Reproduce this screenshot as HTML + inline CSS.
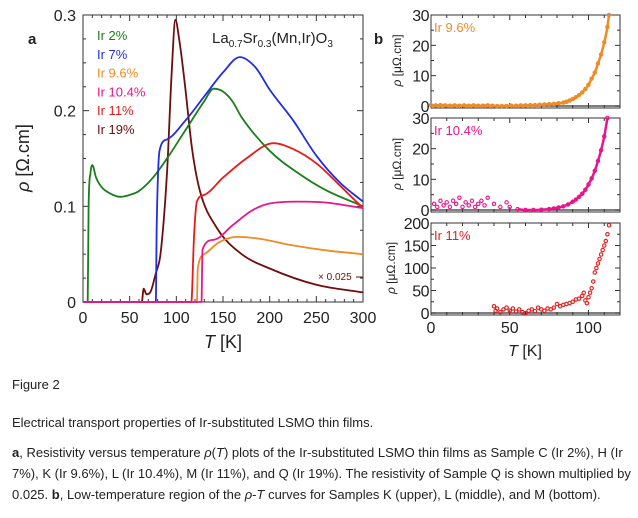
<!DOCTYPE html>
<html><head><meta charset="utf-8"><style>
body{margin:0;background:#fff;width:638px;height:518px;overflow:hidden;font-family:"Liberation Sans",sans-serif}
svg{position:absolute;left:0;top:0}
.cap{position:absolute;left:12px;font-family:"Liberation Sans Narrow","Liberation Sans",sans-serif;font-size:13px;color:#222;line-height:21px;width:620px}
</style></head><body>
<svg id="chart" width="638" height="370" viewBox="0 0 638 370"></svg>
<div class="cap" style="top:374px">Figure 2</div>
<div class="cap" style="top:412px">Electrical transport properties of Ir-substituted LSMO thin films.</div>
<div class="cap" style="top:442px"><b>a</b>, Resistivity versus temperature <i>ρ</i>(<i>T</i>) plots of the Ir-substituted LSMO thin films as Sample C (Ir 2%), H (Ir 7%), K (Ir 9.6%), L (Ir 10.4%), M (Ir 11%), and Q (Ir 19%). The resistivity of Sample Q is shown multiplied by 0.025. <b>b</b>, Low-temperature region of the <i>ρ</i>-<i>T</i> curves for Samples K (upper), L (middle), and M (bottom).</div>
<script>
// Panel a data
const tIr2=[0,5,6,8,10,14,20,30,40,50,60,75,90,110,130,140,150,160,170,200,230,260,300];
const rIr2=[0,0,0.1,0.135,0.143,0.13,0.12,0.113,0.11,0.112,0.116,0.13,0.15,0.18,0.21,0.223,0.22,0.21,0.193,0.158,0.135,0.117,0.1];
const tIr7=[0,78,79,82,90,110,130,150,168,185,200,225,250,275,300];
const rIr7=[0,0,0.08,0.158,0.17,0.19,0.215,0.24,0.256,0.245,0.222,0.19,0.153,0.125,0.105];
const tIr96=[0,122,123,130,145,165,190,220,260,300];
const rIr96=[0,0,0.035,0.05,0.062,0.068,0.066,0.06,0.054,0.05];
const tIr104=[0,127,128,140,160,180,200,230,260,300];
const rIr104=[0,0,0.055,0.065,0.08,0.095,0.103,0.105,0.104,0.098];
const tIr11=[0,116,119,122,130,150,175,204,225,250,275,300];
const rIr11=[0,0,0.07,0.105,0.112,0.13,0.15,0.166,0.16,0.145,0.122,0.098];
const tIr19=[0,63,65,68,72,78,83,90,95,99,103,109,117,125,143,170,200,250,300];
const rIr19=[0,0,0.014,0.008,0.01,0.03,0.05,0.135,0.24,0.295,0.275,0.229,0.159,0.117,0.078,0.05,0.035,0.018,0.01];
const legendLabels=["Ir 2%","Ir 7%","Ir 9.6%","Ir 10.4%","Ir 11%","Ir 19%"];
const xTicksA=[0,50,100,150,200,250,300];
const yTicksA=[0,0.1,0.2,0.3];
// Panel b data
const tK=[0,3,6,9,12,15,18,21,24,27,30,33,36,39,42,45,48,51,54,57,60,63,66,69,72,75,78,81,84,86,88,90,92,94,96,98,100,102,104,106,108,110,112,113];
const rK=[0.3,0.2,0.3,0.2,0.1,0.2,0.1,0.2,0.1,0.2,0.1,0.1,0.2,0.1,0,0,0,0.1,0.1,0.2,0.2,0.3,0.3,0.4,0.5,0.6,0.7,0.9,1.1,1.4,1.8,2.3,2.9,3.6,4.5,5.6,7,9,11,14,17,21,26,30];
const tL=[2,4,6,8,10,12,14,16,18,20,22,24,26,28,30,32,34,36,40,44,48,50,55,60,65,70,75,78,81,84,87,90,92,94,96,98,100,102,104,106,108,110,112];
const rL=[2,1,3,1.5,2.5,1,3,2,4,1,2.5,1.5,3,1,2,3,1.5,4,2,1,2.5,1,0.3,0,0,0.1,0.3,0.5,0.8,1.2,1.8,2.7,3.4,4.3,5.3,6.6,8.3,10.3,12.8,16,19.5,24,30];
const tM=[40,41,42,44,46,48,50,52,54,56,58,60,62,64,66,68,70,72,74,76,78,80,82,84,86,88,90,92,94,96,97,98,99,100,101,102,103,104,105,106,107,108,109,110,111,112,113];
const rM=[15,5,10,2,8,12,5,10,3,8,2,0,5,8,4,12,8,5,10,8,12,20,15,18,20,22,25,30,32,38,45,28,22,35,45,55,70,90,100,110,120,130,140,150,160,175,195];
const xTicksB=[0,50,100];
const yTicksB12=[0,10,20,30];
const yTicksB3=[0,50,100,150,200];

const svg=document.getElementById('chart');
const NS='http://www.w3.org/2000/svg';
function mk(tag,attrs,parent){const e=document.createElementNS(NS,tag);for(const k in attrs)e.setAttribute(k,attrs[k]);(parent||svg).appendChild(e);return e;}
function txt(s,x,y,opts,parent){const e=mk('text',Object.assign({x:x,y:y,'font-family':'Liberation Sans, sans-serif',fill:'#222'},opts),parent);e.textContent=s;return e;}
// monotone cubic path through pixel points
function smooth(P){
  const n=P.length;if(n<3)return P.map((p,i)=>(i?'L':'M')+p[0]+','+p[1]).join('');
  const d=[],m=[];
  for(let i=0;i<n-1;i++){const dx=P[i+1][0]-P[i][0];d.push(dx?(P[i+1][1]-P[i][1])/dx:0);}
  m[0]=d[0];m[n-1]=d[n-2];
  for(let i=1;i<n-1;i++){m[i]=(d[i-1]*d[i]<=0)?0:(d[i-1]+d[i])/2;}
  for(let i=0;i<n-1;i++){if(d[i]===0){m[i]=0;m[i+1]=0;continue;}const a=m[i]/d[i],b=m[i+1]/d[i],s=a*a+b*b;if(s>9){const t=3/Math.sqrt(s);m[i]=t*a*d[i];m[i+1]=t*b*d[i];}}
  let s='M'+P[0][0].toFixed(1)+','+P[0][1].toFixed(1);
  for(let i=0;i<n-1;i++){const h=(P[i+1][0]-P[i][0])/3;
    s+='C'+(P[i][0]+h).toFixed(1)+','+(P[i][1]+m[i]*h).toFixed(1)+' '+(P[i+1][0]-h).toFixed(1)+','+(P[i+1][1]-m[i+1]*h).toFixed(1)+' '+P[i+1][0].toFixed(1)+','+P[i+1][1].toFixed(1);}
  return s;
}

// panel a axes
const ax={l:83,r:363,t:15,b:302,x0:0,x1:300,y0:0,y1:0.3};
const xa=v=>ax.l+(v-ax.x0)/(ax.x1-ax.x0)*(ax.r-ax.l);
const ya=v=>ax.b-(v-ax.y0)/(ax.y1-ax.y0)*(ax.b-ax.t);
const gA=mk('g',{});


const frameA=mk('rect',{x:ax.l,y:ax.t,width:ax.r-ax.l,height:ax.b-ax.t,fill:'none',stroke:'#333','stroke-width':1},gA);


for(let v=0;v<=300;v+=10){const x=xa(v);const L=v%50===0?6:3;mk('line',{x1:x,x2:x,y1:ax.b,y2:ax.b-L,stroke:'#333'},gA);mk('line',{x1:x,x2:x,y1:ax.t,y2:ax.t+L,stroke:'#333'},gA);}
for(let i=0;i<=12;i++){const v=i*0.025;const y=ya(v);const L=i%4===0?6:3;mk('line',{x1:ax.l,x2:ax.l+L,y1:y,y2:y,stroke:'#333'},gA);mk('line',{x1:ax.r,x2:ax.r-L,y1:y,y2:y,stroke:'#333'},gA);}
xTicksA.forEach(v=>{const t=txt(String(v),xa(v),323,{'font-size':16,'text-anchor':'middle'},gA);});
yTicksA.forEach(v=>{const t=txt(String(v),76,ya(v)+6,{'font-size':16,'text-anchor':'end'},gA);});
const xtA=txt('',223,348,{'font-size':18,'text-anchor':'middle'},gA);xtA.innerHTML='<tspan font-style="italic">T</tspan> [K]';

const ytA=txt('',0,0,{'font-size':18,'text-anchor':'middle',transform:'translate(29,158) rotate(-90)'},gA);ytA.innerHTML='<tspan font-style="italic">ρ</tspan> [Ω.cm]';

const colors=['#1a7d1a','#1f2ee0','#f08a24','#e8158c','#e81a1a','#6e0d0d'];
const seriesT=[tIr2,tIr7,tIr96,tIr104,tIr11,tIr19];
const seriesR=[rIr2,rIr7,rIr96,rIr104,rIr11,rIr19];
const names=['line-ir2','line-ir7','line-ir9-6','line-ir10-4','line-ir11','line-ir19'];
[5,0,1,2,4,3].forEach(i=>{
  const pts=seriesT[i].map((t,j)=>[xa(t),ya(seriesR[i][j])]);
  const p=mk('path',{d:smooth(pts),fill:'none',stroke:colors[i],'stroke-width':1.8,'stroke-linejoin':'round'},gA);
  
  
});
legendLabels.forEach((s,i)=>{const t=txt(s,97,40+i*18.8,{'font-size':13,fill:colors[i]},gA);});
const ttl=txt('',212,43,{'font-size':15},gA);ttl.innerHTML='La<tspan font-size="10" dy="4">0.7</tspan><tspan dy="-4">Sr</tspan><tspan font-size="10" dy="4">0.3</tspan><tspan dy="-4">(Mn,Ir)O</tspan><tspan font-size="10" dy="4">3</tspan>';

const la=txt('a',28,44,{'font-size':15,'font-weight':'bold'},gA);
const sc=txt('× 0.025',318,280,{'font-size':10,fill:'#6e0d0d'},gA);
mk('line',{x1:356,x2:363,y1:277,y2:277,stroke:'#6e0d0d'},gA);
const lb=txt('b',374,44,{'font-size':15,'font-weight':'bold'});

// panel b
const bl=431,br=620,bx=v=>bl+v/120*(br-bl);
const panels=[
 {t:15,z:106,b:108,max:30,ticks:yTicksB12,minor:5,T:tK,R:rK,c:'#f08a24',lab:'Ir 9.6%',name:'panel-b-upper'},
 {t:118,z:210,b:212,max:30,ticks:yTicksB12,minor:5,T:tL,R:rL,c:'#e8158c',lab:'Ir 10.4%',name:'panel-b-middle'},
 {t:223,z:313,b:315,max:200,ticks:yTicksB3,minor:25,T:tM,R:rM,c:'#e81a1a',lab:'Ir 11%',name:'panel-b-lower'}];
panels.forEach((P,k)=>{
  const g=mk('g',{});
  
  
  const yb=v=>P.z-v/P.max*(P.z-P.t);
  mk('rect',{x:bl,y:P.t,width:br-bl,height:P.b-P.t,fill:'none',stroke:'#333'},g);
  mk('line',{x1:bl,x2:br,y1:P.z,y2:P.z,stroke:'#555','stroke-width':1.5},g);
  for(let v=0;v<=120;v+=10){const x=bx(v);const L=v%50===0?5:3;mk('line',{x1:x,x2:x,y1:P.b,y2:P.b-L,stroke:'#333'},g);mk('line',{x1:x,x2:x,y1:P.t,y2:P.t+L,stroke:'#333'},g);}
  for(let v=0;v<=P.max;v+=P.minor){const y=yb(v);const L=P.ticks.includes(v)?5:3;mk('line',{x1:bl,x2:bl+L,y1:y,y2:y,stroke:'#333'},g);mk('line',{x1:br,x2:br-L,y1:y,y2:y,stroke:'#333'},g);}
  P.ticks.forEach(v=>{const t=txt(String(v),429,yb(v)+6,{'font-size':16,'text-anchor':'end','letter-spacing':'-0.5'},g);});
  const yt=txt('',0,0,{'font-size':12,'text-anchor':'middle',transform:`translate(${k==2?395:401},${(P.t+P.z)/2}) rotate(-90)`},g);yt.innerHTML='<tspan font-style="italic">ρ</tspan> [μΩ.cm]';
  
  if(k===0){const pl=mk('path',{d:smooth(P.T.map((t,j)=>[bx(t),yb(P.R[j])])),fill:'none',stroke:P.c,'stroke-width':2.5},g);}
  if(k===1){const i0=P.T.indexOf(55);const pl=mk('path',{d:smooth(P.T.slice(i0).map((t,j)=>[bx(t),yb(P.R[i0+j])])),fill:'none',stroke:P.c,'stroke-width':2.5},g);}
  P.T.forEach((t,j)=>{const c=mk('circle',{cx:bx(t),cy:yb(P.R[j]),r:1.7,fill:'none',stroke:P.c,'stroke-width':1.1},g);});
  const l=txt(P.lab,434,P.t+17,{'font-size':13,fill:P.c},g);
});
xTicksB.forEach(v=>{const t=txt(String(v),bx(v),333,{'font-size':16,'text-anchor':'middle'});});
const xtB=txt('',525,356,{'font-size':16,'text-anchor':'middle'});xtB.innerHTML='<tspan font-style="italic">T</tspan> [K]';

</script>
</body></html>
